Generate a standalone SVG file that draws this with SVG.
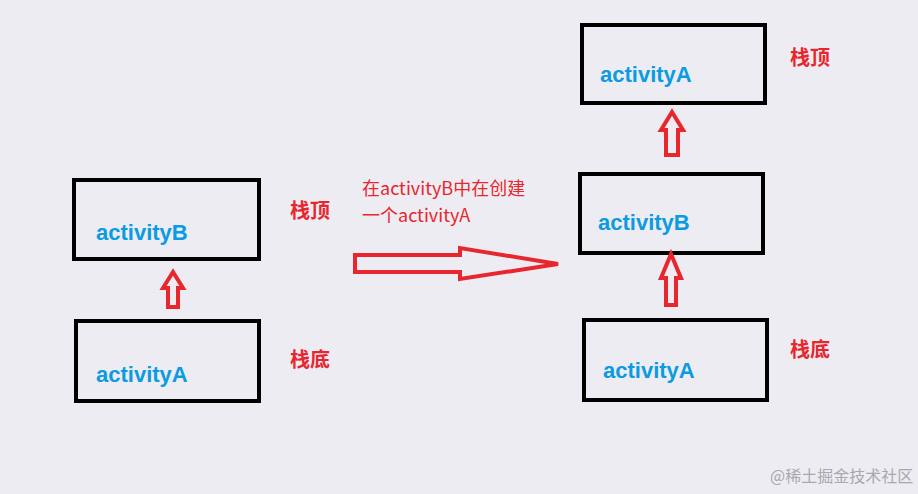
<svg xmlns="http://www.w3.org/2000/svg" width="918" height="494" viewBox="0 0 918 494">
<style>
.box{fill:none;stroke:#000;stroke-width:4}
.lbl{font-family:"Liberation Sans","Noto Sans CJK SC",sans-serif;font-weight:bold;font-size:22px;fill:#0A9BE0}
.st{font-family:"Noto Sans CJK SC",sans-serif;font-weight:bold;font-size:20px;fill:#E8262D}
.arr{fill:none;stroke:#E8262D;stroke-width:4;stroke-linejoin:miter}
.note{font-family:"Noto Sans CJK SC",sans-serif;font-size:18px;fill:#E8262D}
</style>
<rect width="918" height="494" fill="#EDECF2"/>
<g id="leftB"><rect class="box" x="74" y="180" width="185" height="79"/><text class="lbl" x="96" y="240">activityB</text></g>
<g id="leftA"><rect class="box" x="76" y="321" width="183" height="80"/><text class="lbl" x="96" y="382">activityA</text></g>
<g id="rightA2"><rect class="box" x="582" y="25" width="183" height="78"/><text class="lbl" x="600" y="82">activityA</text></g>
<g id="rightB"><rect class="box" x="580" y="174" width="183" height="79"/><text class="lbl" x="598" y="230">activityB</text></g>
<g id="rightA"><rect class="box" x="584" y="320" width="183" height="80"/><text class="lbl" x="603" y="378">activityA</text></g>
<g id="labels">
<text class="st" x="290" y="218">栈顶</text>
<text class="st" x="290" y="367">栈底</text>
<text class="st" x="790" y="65">栈顶</text>
<text class="st" x="790" y="357">栈底</text>
<text class="note" x="362" y="195">在activityB中在创建</text>
<text class="note" x="362" y="222">一个activityA</text>
</g>
<g id="connectors">
<path class="arr" d="M168,307 V288 H163 L173,272 L183,288 H178 V307 Z"/>
<path class="arr" d="M666,155 V130 H661 L672,112 L683,130 H678 V155 Z"/>
<path class="arr" d="M666,305 V278 H661 L671,254 L681,278 H676 V305 Z"/>
<path class="arr" d="M355,255 H460 V248 L558,264 L460,279 V272 H355 Z"/>
</g>
<text x="770" y="482" font-family="Noto Sans CJK SC,sans-serif" font-size="16" fill="#A9A8AE">@稀土掘金技术社区</text>
</svg>
